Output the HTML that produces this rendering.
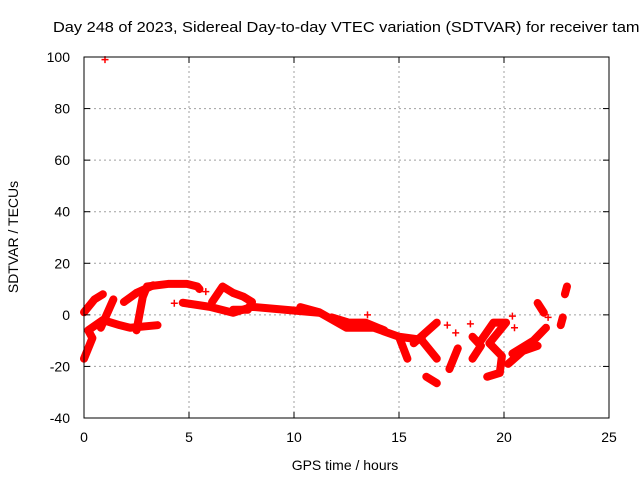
<!DOCTYPE html>
<html><head><meta charset="utf-8"><style>
body{margin:0;background:#fff;}
svg{display:block;font-family:"Liberation Sans",sans-serif;}
</style></head><body>
<svg id="chart" width="640" height="480" xmlns="http://www.w3.org/2000/svg">
<rect width="640" height="480" fill="#fff"/>
<text x="53" y="32" font-size="15" textLength="592" lengthAdjust="spacingAndGlyphs" fill="#000">Day 248 of 2023, Sidereal Day-to-day VTEC variation (SDTVAR) for receiver tamr</text>
<g id="grid"></g><g id="marks"></g><g id="axes"></g>
<text x="345" y="470" font-size="14" text-anchor="middle">GPS time / hours</text>
<text transform="translate(18,237) rotate(-90)" font-size="14" text-anchor="middle">SDTVAR / TECUs</text>
</svg>
<script>
const xTicks=[0,5,10,15,20,25];
const yTicks=[-40,-20,0,20,40,60,80,100];
const tracks=[
[[0,-17],[0.4,-9],[0.2,-6],[0.9,-2],[1.7,-4],[2.2,-5],[3.5,-4]],
[[0,1],[0.5,6],[0.9,8]],
[[0.8,-5],[1.4,6]],
[[2.5,-6],[2.8,7],[3.0,11],[4.0,12],[4.9,12],[5.4,11],[5.5,10]],
[[1.9,5],[2.5,8.5],[3.3,11.5]],
[[4.7,4.7],[6.0,3.1],[7.1,0.8],[8.0,3.1],[9.7,1.9],[11.2,0.8]],
[[6.1,5],[6.6,11],[7.1,8.5],[7.6,7],[8.0,5],[7.8,2],[7.1,2]],
[[10.3,3],[11.2,1],[12.5,-5],[13.8,-5],[15,-8.5],[16.1,-9.7]],
[[11.8,-1],[12.6,-3],[13.4,-3],[14.3,-6]],
[[15,-8.5],[15.4,-17]],
[[15.7,-11],[16.8,-3]],
[[16.1,-10],[16.8,-17]],
[[16.3,-24],[16.8,-26.5]],
[[17.4,-21],[17.8,-13]],
[[18.5,-8.5],[18.9,-12],[18.5,-17]],
[[18.9,-10],[19.5,-3],[20.1,-3],[19.3,-11],[19.9,-16],[19.8,-22.5],[19.2,-24]],
[[20.4,-15],[21.4,-10],[22.0,-5]],
[[20.2,-19],[20.9,-14],[21.6,-12]],
[[21.6,4.6],[21.9,0.8]],
[[22.9,8],[23.0,11]],
[[22.7,-4],[22.8,-1]]
];
const singles=[[1.0,99],[4.3,4.5],[5.8,9],[17.3,-4],[17.7,-7],[18.4,-3.5],[20.4,-0.5],[20.5,-5],[22.1,-1],[13.5,0]];
const X0=84,X1=609,Y0=418,Y1=57;
const xs=v=>X0+(v-0)/25*(X1-X0);
const ys=v=>Y0-(v+40)/140*(Y0-Y1);
const NS="http://www.w3.org/2000/svg";
function mk(tag,attrs,parent){const e=document.createElementNS(NS,tag);for(const k in attrs)e.setAttribute(k,attrs[k]);parent.appendChild(e);return e;}
const grid=document.getElementById('grid'),marks=document.getElementById('marks'),axes=document.getElementById('axes');
xTicks.forEach(t=>{
 if(t>0&&t<25){const l=mk('line',{x1:xs(t),x2:xs(t),y1:Y0,y2:Y1,stroke:'#a0a0a0','stroke-dasharray':'2,3'},grid);
 
 }
 const tx=mk('text',{x:xs(t),y:Y0+24,'font-size':14,'text-anchor':'middle'},axes);tx.textContent=t;
 
 
 mk('line',{x1:xs(t),x2:xs(t),y1:Y0,y2:Y0-6,stroke:'#000'},axes);
 mk('line',{x1:xs(t),x2:xs(t),y1:Y1,y2:Y1+6,stroke:'#000'},axes);
});
yTicks.forEach(t=>{
 if(t>-40&&t<100){const l=mk('line',{x1:X0,x2:X1,y1:ys(t),y2:ys(t),stroke:'#a0a0a0','stroke-dasharray':'2,3'},grid);
 
 }
 const tx=mk('text',{x:X0-14,y:ys(t)+5,'font-size':14,'text-anchor':'end'},axes);tx.textContent=t;
 
 
 mk('line',{x1:X0,x2:X0+6,y1:ys(t),y2:ys(t),stroke:'#000'},axes);
 mk('line',{x1:X1,x2:X1-6,y1:ys(t),y2:ys(t),stroke:'#000'},axes);
});
const fr=mk('rect',{x:X0,y:Y1,width:X1-X0,height:Y0-Y1,fill:'none',stroke:'#000'},axes);


function plus(p){const g=mk('path',{d:`M${xs(p[0])-3.5},${ys(p[1])}h7M${xs(p[0])},${ys(p[1])-3.5}v7`,stroke:'#f00','stroke-width':1.5},marks);
 
 }
tracks.forEach(tr=>{
 const pl=mk('polyline',{points:tr.map(p=>xs(p[0])+','+ys(p[1])).join(' '),fill:'none',stroke:'#f00','stroke-width':8,'stroke-linecap':'round','stroke-linejoin':'round'},marks);
 
 
 tr.forEach(plus);
});
singles.forEach(plus);
</script>
</body></html>
